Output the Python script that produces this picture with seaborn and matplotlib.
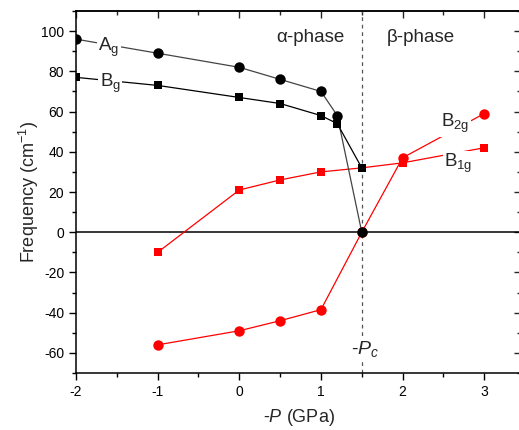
"""
Phonon frequencies vs -P across the alpha/beta transition
"""

import numpy as np
import pandas as pd
import matplotlib
matplotlib.use("Agg")
import matplotlib.pyplot as plt
import seaborn as sns
from matplotlib.ticker import MultipleLocator


# ---------- data ----------
ag_p = [-2, -1, 0, 0.5, 1, 1.2, 1.5]
ag_f = [96, 89, 82, 76, 70, 58, 0]

bg_p = [-2, -1, 0, 0.5, 1, 1.2, 1.5]
bg_f = [77, 73, 67, 64, 58, 54, 32]

b1g_p = [-1, 0, 0.5, 1, 1.5, 2, 3]
b1g_f = [-10, 21, 26, 30, 32, 34.5, 42]

b2g_p = [-1, 0, 0.5, 1, 1.5, 2, 3]
b2g_f = [-56, -49, -44, -38.5, 0, 37, 59]

p_c = 1.5

# ---------- style ----------
sns.set_theme(style="ticks")
plt.rcParams["font.family"] = ["Liberation Sans", "DejaVu Sans"]
plt.rcParams["mathtext.fontset"] = "custom"
plt.rcParams["mathtext.rm"] = "Liberation Sans"
plt.rcParams["mathtext.it"] = "Liberation Sans:italic"
plt.rcParams["axes.unicode_minus"] = False

fig = plt.figure(figsize=(5.19, 4.30), dpi=100)
ax = fig.add_axes([76 / 519, 57 / 430, 445 / 519, 362 / 430])

# ---------- lines + markers ----------
series = [
    (b1g_p, b1g_f, "#ff0000", "#ff0000", "s", 6),
    (b2g_p, b2g_f, "#ff0000", "#ff0000", "o", 7.5),
    (ag_p, ag_f, "#444444", "black", "o", 7.5),
    (bg_p, bg_f, "black", "black", "s", 6),
]
for px, fy, lc, mc, mk, ms in series:
    df = pd.DataFrame({"p": px, "f": fy})
    sns.lineplot(data=df, x="p", y="f", color=lc, lw=0.9, sort=False,
                 ax=ax, zorder=3)
    sns.scatterplot(data=df, x="p", y="f", color=mc, marker=mk,
                    s=ms ** 2, edgecolor=mc, linewidth=0, ax=ax, zorder=4)

ax.axhline(0, color="black", lw=1.1, zorder=2)
ax.axvline(p_c, color="#555555", lw=0.9, ls=(0, (3, 3)), zorder=2)

# ---------- labels on lines ----------
box = dict(facecolor="white", edgecolor="none", pad=1)
ax.text(-1.6, 92, r"A$_\mathrm{g}$", fontsize=13.5, ha="center", va="center",
        bbox=box, zorder=5)
ax.text(-1.58, 74, r"B$_\mathrm{g}$", fontsize=13.5, ha="center", va="center",
        bbox=box, zorder=5)
ax.text(2.65, 54, r"B$_\mathrm{2g}$", fontsize=13.5, ha="center", va="center",
        bbox=box, zorder=5)
ax.text(2.68, 34, r"B$_\mathrm{1g}$", fontsize=13.5, ha="center", va="center",
        bbox=box, zorder=5)

ax.text(0.87, 97, "α-phase", fontsize=13.5, ha="center", va="center")
ax.text(2.22, 97, "β-phase", fontsize=13.5, ha="center", va="center")
ax.text(1.54, -58, r"-$P_c$", fontsize=14, ha="center", va="center",
        bbox=box, zorder=5)

# ---------- axes ----------
ax.set_xlim(-2, 3.45)
ax.set_ylim(-70, 110)
ax.xaxis.set_major_locator(MultipleLocator(1))
ax.xaxis.set_minor_locator(MultipleLocator(0.5))
ax.yaxis.set_major_locator(MultipleLocator(20))
ax.yaxis.set_minor_locator(MultipleLocator(10))
ax.tick_params(which="both", direction="out", top=False, right=False,
               labelsize=10, colors="black", width=1)
ax.tick_params(which="major", length=5)
ax.tick_params(which="minor", length=3)

# inward ticks on top and right
sec_x = ax.secondary_xaxis("top")
sec_x.xaxis.set_major_locator(MultipleLocator(1))
sec_x.xaxis.set_minor_locator(MultipleLocator(0.5))
sec_x.tick_params(which="both", direction="in", labeltop=False, width=1)
sec_x.tick_params(which="major", length=5)
sec_x.tick_params(which="minor", length=3)
sec_y = ax.secondary_yaxis("right")
sec_y.yaxis.set_major_locator(MultipleLocator(20))
sec_y.yaxis.set_minor_locator(MultipleLocator(10))
sec_y.tick_params(which="both", direction="in", labelright=False, width=1)
sec_y.tick_params(which="major", length=5)
sec_y.tick_params(which="minor", length=3)

for sp in ax.spines.values():
    sp.set_linewidth(1.1)
    sp.set_color("black")

ax.set_xlabel(r"-$P$ (GPa)", fontsize=13, labelpad=6)
ax.set_ylabel(r"Frequency (cm$^{-1}$)", fontsize=13, labelpad=0)

fig.savefig("out.png", dpi=100)
plt.close(fig)
